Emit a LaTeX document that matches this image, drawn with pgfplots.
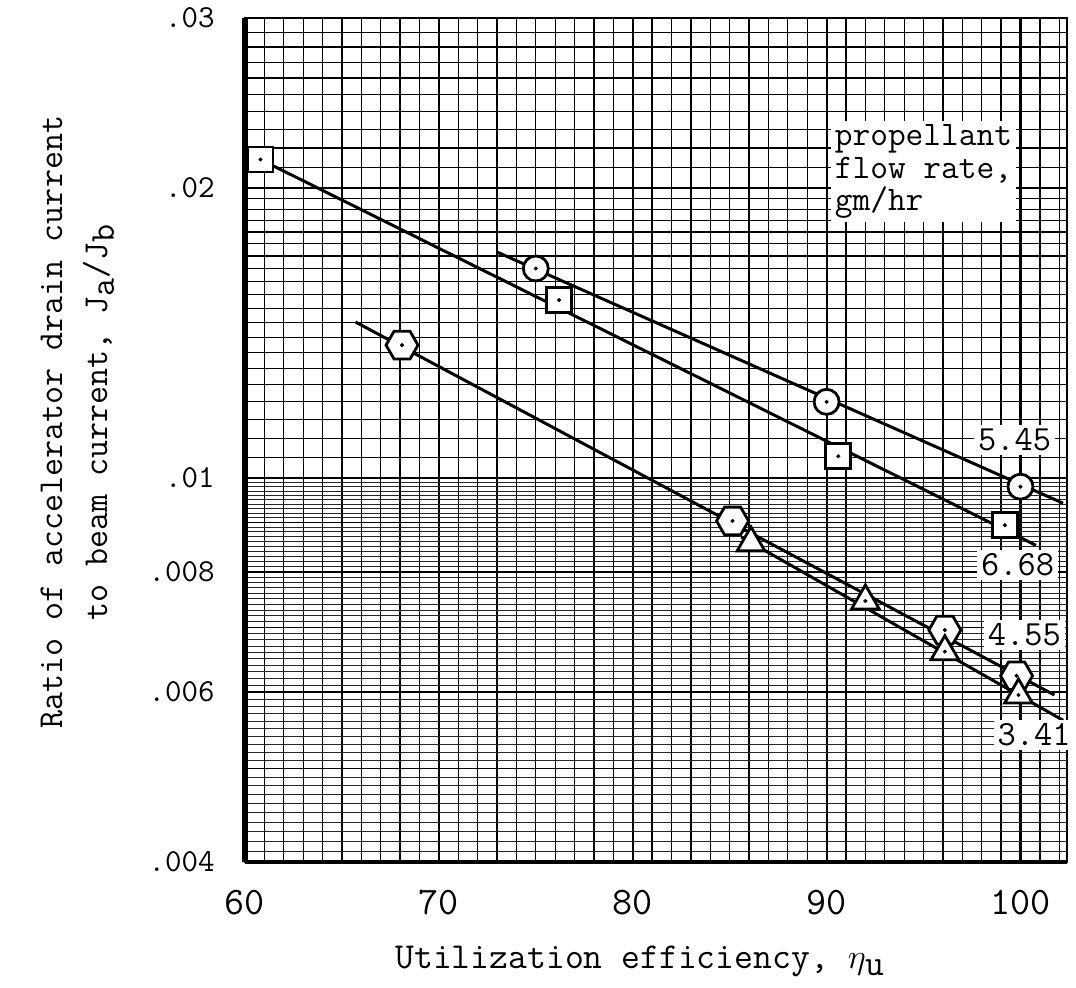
\documentclass[border=0pt]{standalone}
\usepackage{pgfplots}
\pgfplotsset{compat=1.18}
\usepackage{fontspec}
\renewcommand*{\familydefault}{\ttdefault}

% open hexagon with pointed left and right corners
\pgfdeclareplotmark{hexagon}{%
  \pgfpathmoveto{\pgfqpoint{\pgfplotmarksize}{0pt}}%
  \pgfpathlineto{\pgfpointpolar{60}{\pgfplotmarksize}}%
  \pgfpathlineto{\pgfpointpolar{120}{\pgfplotmarksize}}%
  \pgfpathlineto{\pgfpointpolar{180}{\pgfplotmarksize}}%
  \pgfpathlineto{\pgfpointpolar{240}{\pgfplotmarksize}}%
  \pgfpathlineto{\pgfpointpolar{300}{\pgfplotmarksize}}%
  \pgfpathclose
  \pgfusepathqfillstroke}

\newcommand{\sub}[1]{\raisebox{-0.45ex}{#1}}

\begin{document}
\begin{tikzpicture}
\path[use as bounding box] (-122.5pt,-63pt) rectangle (415.5pt,431pt);
\begin{axis}[
  width=411pt, height=422pt, scale only axis,
  xmin=60, xmax=102.4,
  ymode=log, ymin=0.004, ymax=0.03,
  clip=false,
  /pgf/number format/assume math mode=true,
  xtick={60,70,80,90,100},
  xticklabels={60,70,80,90,100},
  minor xtick={61,...,102},
  ytick={0.004,0.006,0.008,0.01,0.02,0.03},
  yticklabels={.004,.006,.008,.01,.02,.03},
  minor ytick={0.005,0.007,0.009,
    0.0105,0.011,0.0115,0.012,0.0125,0.013,0.0135,0.014,0.0145,0.015,
    0.0155,0.016,0.0165,0.017,0.0175,0.018,0.0185,0.019,0.0195,
    0.021,0.022,0.023,0.024,0.025,0.026,0.027,0.028,0.029},
  extra y ticks={
    0.0041,0.0042,0.0043,0.0044,0.0045,0.0046,0.0047,0.0048,0.0049,
    0.0051,0.0052,0.0053,0.0054,0.0055,0.0056,0.0057,0.0058,0.0059,
    0.0061,0.0062,0.0063,0.0064,0.0065,0.0066,0.0067,0.0068,0.0069,
    0.0071,0.0072,0.0073,0.0074,0.0075,0.0076,0.0077,0.0078,0.0079,
    0.0081,0.0082,0.0083,0.0084,0.0085,0.0086,0.0087,0.0088,0.0089,
    0.0091,0.0092,0.0093,0.0094,0.0095,0.0096,0.0097,0.0098,0.0099},
  extra y tick labels={},
  extra y tick style={grid=major, major grid style={black!85, line width=0.45pt}},
  grid=both,
  major grid style={black, line width=1.1pt},
  minor grid style={black, line width=0.65pt},
  major tick length=0pt, minor tick length=0pt,
  axis line style={black, line width=1pt},
  xticklabel style={anchor=center, yshift=-20.5pt, font=\fontsize{19.5}{19.5}\selectfont},
  yticklabel style={anchor=east, inner sep=0pt, xshift=-15pt, font=\fontsize{16}{16}\selectfont},
  xlabel={Utilization efficiency, $\eta$\sub{u}},
  xlabel style={at={(axis description cs:0.4805,-0.118)}, anchor=center,
    font=\fontsize{18.3}{18.3}\selectfont},
  ylabel={Ratio of accelerator drain current\\to beam current, J\sub{a}/J\sub{b}},
  ylabel style={at={(axis description cs:-0.204,0.521)}, anchor=center, rotate=0,
    align=center, font=\fontsize{17.5}{22.5}\selectfont},
]

% fitted lines, one for each flow rate
\addplot[black, line width=1.5pt] coordinates {(73.0,0.01716) (102.2,0.00942)};
\addplot[black, line width=1.5pt] coordinates {(60.8,0.0214) (100.8,0.00852)};
\addplot[black, line width=1.5pt] coordinates {(65.7,0.01452) (101.75,0.00596)};
\addplot[black, line width=1.5pt] coordinates {(85.6,0.00869) (102.2,0.00561)};

% 5.45 gm/hr
\addplot[only marks, mark=*, mark size=6.25pt,
  mark options={fill=white, draw=black, line width=1.4pt}]
  coordinates {(75,0.0165) (90,0.0120) (100,0.0098)};
% 6.68 gm/hr
\addplot[only marks, mark=square*, mark size=6.25pt,
  mark options={fill=white, draw=black, line width=1.4pt}]
  coordinates {(60.8,0.0214) (76.2,0.0153) (90.6,0.01054) (99.2,0.00894)};
% 4.55 gm/hr
\addplot[only marks, mark=hexagon, mark size=8pt,
  mark options={fill=white, draw=black, line width=1.4pt}]
  coordinates {(68.1,0.01374) (85.15,0.00903) (96.1,0.00696) (99.8,0.00624)};
% 3.41 gm/hr
\addplot[only marks, mark=triangle*, mark size=8pt,
  mark options={fill=white, draw=black, line width=1.4pt}]
  coordinates {(86.1,0.00857) (92.0,0.00746) (96.1,0.00661) (99.9,0.00596)};

% centre dots of the symbols
\addplot[only marks, mark=*, mark size=0.8pt, black] coordinates {
  (75,0.0165) (90,0.0120) (100,0.0098)
  (60.8,0.0214) (76.2,0.0153) (90.6,0.01054) (99.2,0.00894)
  (68.1,0.01374) (85.15,0.00903) (96.1,0.00696) (99.8,0.00624)
  (92.0,0.00746) (96.1,0.00661) (99.9,0.00596)};

% heavy left and bottom edges of the chart paper
\draw[black, line width=2.6pt] (rel axis cs:0,0) -- (rel axis cs:0,1);
\draw[black, line width=1.8pt] (rel axis cs:0,0) -- (rel axis cs:1,0);

\node[fill=white, inner sep=2pt, font=\fontsize{17.7}{17.7}\selectfont]
  at (axis cs:99.7,0.01096) {5.45};
\node[fill=white, inner sep=2pt, font=\fontsize{17.7}{17.7}\selectfont]
  at (axis cs:99.85,0.00813) {6.68};
\node[fill=white, inner sep=2pt, font=\fontsize{17.7}{17.7}\selectfont]
  at (axis cs:100.2,0.00688) {4.55};
\node[fill=white, inner sep=2pt, font=\fontsize{17.7}{17.7}\selectfont]
  at (axis cs:100.7,0.00542) {3.41};
\node[fill=white, anchor=north west, align=left, inner sep=2pt,
  font=\fontsize{17.2}{16.2}\selectfont]
  at (axis cs:90.2,0.0235) {propellant\\flow rate,\\gm/hr};
\end{axis}
\end{tikzpicture}
\end{document}
